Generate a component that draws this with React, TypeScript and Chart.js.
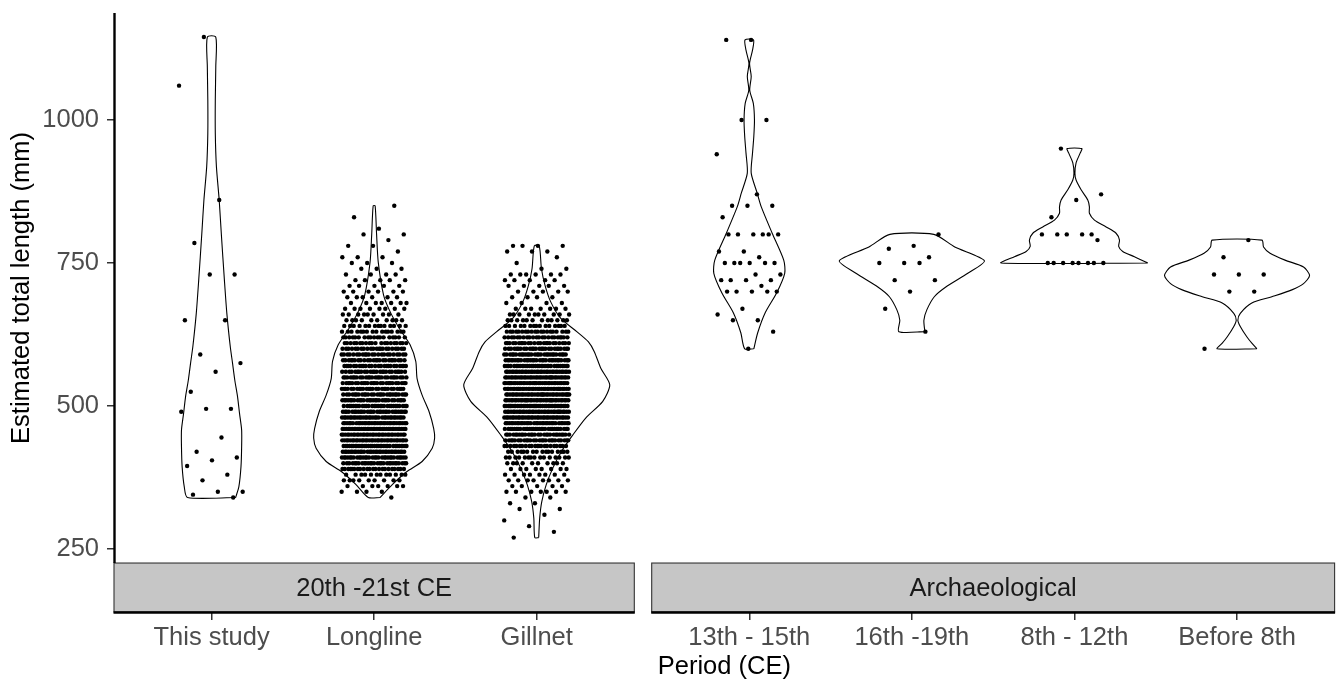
import React, { useEffect, useRef } from "react";
import { Chart, registerables } from "chart.js";

Chart.register(...registerables);

// ---------------- data ----------------
const categories = ["This study", "Longline", "Gillnet", "13th - 15th", "16th -19th", "8th - 12th", "Before 8th"];
const facetLabels = ["20th -21st CE", "Archaeological"];
const facetSizes = [3, 4];
const yTicks = [250, 500, 750, 1000];
const xTitle = "Period (CE)";
const yTitle = "Estimated total length (mm)";

// individual lengths (mm)
const thisStudyLengths = [1145, 1060, 860, 785, 730, 730, 650, 650, 590, 575, 560, 525, 495, 495, 490, 445, 420, 410, 405, 395, 380, 370, 350, 350, 345, 340];
const thirteenthLengths = [1140, 1140, 1000, 1000, 940, 870, 850, 850, 850, 830, 800, 800, 800, 800, 800, 800, 770, 770, 760, 750, 750, 750, 750, 750, 750, 730, 730, 720, 720, 720, 720, 710, 700, 700, 700, 700, 700, 670, 660, 650, 650, 630, 600];
const sixteenthLengths = [800, 780, 775, 760, 750, 750, 750, 720, 720, 700, 670, 630];
const eighthLengths = [950, 870, 860, 830, 800, 800, 800, 800, 800, 790, 750, 750, 750, 750, 750, 750, 750, 750];
const before8Lengths = [790, 760, 730, 730, 730, 700, 700, 600];

// dense groups: number of fish at each recorded length (mm)
const longlineLevels = [340, 350, 360, 370, 380, 390, 400, 410, 420, 430, 440, 450, 460, 470, 480, 490, 500, 510, 520, 530, 540, 550, 560, 570, 580, 590, 600, 610, 620, 630, 640, 650, 660, 670, 680, 690, 700, 710, 720, 730, 740, 750, 760, 770, 780, 790, 800, 810, 830, 850];
const longlineCounts = [1, 4, 7, 9, 12, 22, 28, 30, 32, 33, 34, 34, 34, 33, 32, 30, 29, 28, 27, 26, 26, 26, 25, 25, 24, 23, 22, 20, 18, 16, 14, 10, 9, 8, 7, 6, 6, 5, 5, 4, 3, 3, 3, 1, 2, 1, 2, 1, 1, 1];
const gillnetLevels = [270, 280, 290, 300, 310, 320, 330, 340, 350, 360, 370, 380, 390, 400, 410, 420, 430, 440, 450, 460, 470, 480, 490, 500, 510, 520, 530, 540, 550, 560, 570, 580, 590, 600, 610, 620, 630, 640, 650, 660, 670, 680, 690, 700, 710, 720, 730, 740, 750, 760, 770, 780];
const gillnetCounts = [1, 1, 1, 1, 1, 2, 2, 2, 7, 5, 8, 8, 8, 10, 15, 16, 22, 26, 28, 30, 32, 34, 35, 36, 36, 36, 36, 36, 35, 34, 32, 30, 28, 26, 24, 22, 20, 15, 12, 10, 7, 4, 4, 5, 5, 5, 6, 2, 1, 1, 3, 4];

// violin outlines: length (mm) and half-width (in category units)
const thisStudyViolinY = [340, 359, 394, 429, 458, 487, 516, 545, 575, 604, 662, 720, 801, 860, 918, 977, 1035, 1093, 1145];
const thisStudyViolinW = [0.148, 0.168, 0.181, 0.185, 0.185, 0.172, 0.16, 0.143, 0.129, 0.115, 0.094, 0.079, 0.06, 0.047, 0.03, 0.023, 0.023, 0.026, 0.026];
const longlineViolinY = [340, 363, 385, 403, 426, 444, 461, 490, 519, 548, 578, 607, 636, 665, 694, 752, 800, 850];
const longlineViolinW = [0.036, 0.113, 0.2, 0.295, 0.357, 0.372, 0.366, 0.338, 0.295, 0.264, 0.256, 0.221, 0.154, 0.098, 0.058, 0.025, 0.015, 0.006];
const gillnetViolinY = [270, 304, 333, 362, 391, 420, 449, 479, 508, 537, 566, 595, 612, 630, 653, 682, 711, 740, 780];
const gillnetViolinW = [0.012, 0.018, 0.031, 0.058, 0.098, 0.151, 0.221, 0.301, 0.406, 0.449, 0.394, 0.354, 0.318, 0.246, 0.148, 0.086, 0.051, 0.029, 0.015];
const thirteenthViolinY = [600, 628, 663, 698, 732, 755, 802, 848, 872, 907, 942, 971, 1000, 1029, 1052, 1076, 1099, 1122, 1140];
const thirteenthViolinW = [0.028, 0.052, 0.098, 0.169, 0.218, 0.212, 0.141, 0.074, 0.049, 0.012, 0.02, 0.028, 0.032, 0.025, 0.003, 0.012, 0.002, 0.02, 0.026];
const sixteenthViolinY = [630, 650, 668, 691, 708, 732, 754, 778, 800];
const sixteenthViolinW = [0.08, 0.074, 0.092, 0.138, 0.209, 0.344, 0.446, 0.264, 0.135];
const eighthViolinY = [750, 761, 770, 779, 790, 802, 813, 825, 837, 848, 860, 878, 895, 907, 925, 942, 950];
const eighthViolinW = [0.451, 0.369, 0.297, 0.272, 0.277, 0.256, 0.195, 0.123, 0.092, 0.092, 0.082, 0.041, 0.01, 0.003, 0.01, 0.035, 0.045];
const before8ViolinY = [600, 610, 621, 639, 650, 662, 680, 691, 703, 714, 728, 743, 755, 767, 778, 790];
const before8ViolinW = [0.122, 0.091, 0.06, 0.02, 0.005, 0.02, 0.091, 0.214, 0.337, 0.409, 0.446, 0.409, 0.295, 0.203, 0.163, 0.153];

// ---------------- layout constants ----------------
const FONT = "'Liberation Sans', Arial, Helvetica, sans-serif";
const FONT_SIZE = 25.5;
const EXPAND = 0.6; // discrete scale expansion each side
const GAP = 0.107; // panel spacing in category units
const JITTER = 0.2;
const Y_PANEL_MIN = 225.5;
const Y_PANEL_MAX = 1187;
const Y_CHART_MIN = 139.9; // includes strip band below panels

function expandCounts(levels: number[], counts: number[]): number[] {
  const out: number[] = [];
  levels.forEach((v, i) => {
    for (let k = 0; k < counts[i]; k++) out.push(v);
  });
  return out;
}

const groupLengths: number[][] = [
  thisStudyLengths,
  expandCounts(longlineLevels, longlineCounts),
  expandCounts(gillnetLevels, gillnetCounts),
  thirteenthLengths,
  sixteenthLengths,
  eighthLengths,
  before8Lengths,
];
const violinY = [thisStudyViolinY, longlineViolinY, gillnetViolinY, thirteenthViolinY, sixteenthViolinY, eighthViolinY, before8ViolinY];
const violinW = [thisStudyViolinW, longlineViolinW, gillnetViolinW, thirteenthViolinW, sixteenthViolinW, eighthViolinW, before8ViolinW];

// facet geometry in x units
const facetStart: number[] = [];
const facetEnd: number[] = [];
const catPos: number[] = [];
{
  let start = 0;
  facetSizes.forEach((n) => {
    facetStart.push(start);
    for (let i = 0; i < n; i++) catPos.push(start + EXPAND + i);
    const end = start + (n - 1) + 2 * EXPAND;
    facetEnd.push(end);
    start = end + GAP;
  });
}
const X_MAX = facetEnd[facetEnd.length - 1];

function jitterOffset(i: number, seed: number): number {
  const t = (i * 0.6180339887 + seed * 0.3819660113) % 1;
  return (t - 0.5) * 2 * JITTER;
}

const facetPlugin = {
  id: "facetStrips",
  afterDraw(chart: any) {
    const { ctx, scales, chartArea } = chart;
    const x = scales.x;
    const y = scales.y;
    const stripTop = y.getPixelForValue(Y_PANEL_MIN);
    const stripBottom = chartArea.bottom;
    ctx.save();
    facetLabels.forEach((label, f) => {
      const l = x.getPixelForValue(facetStart[f]);
      const r = x.getPixelForValue(facetEnd[f]);
      ctx.fillStyle = "#c6c6c6";
      ctx.fillRect(l, stripTop, r - l, stripBottom - stripTop);
      ctx.strokeStyle = "#333333";
      ctx.lineWidth = 1.1;
      ctx.strokeRect(l, stripTop, r - l, stripBottom - stripTop);
      ctx.fillStyle = "#1a1a1a";
      ctx.font = `${FONT_SIZE}px ${FONT}`;
      ctx.textAlign = "center";
      ctx.textBaseline = "middle";
      ctx.fillText(label, (l + r) / 2, (stripTop + stripBottom) / 2 + 1);
      // x axis line of this panel
      ctx.strokeStyle = "#000";
      ctx.lineWidth = 2.4;
      ctx.beginPath();
      ctx.moveTo(l - 0.5, stripBottom + 0.5);
      ctx.lineTo(r + 0.5, stripBottom + 0.5);
      ctx.stroke();
    });
    // y axis line (left panel only)
    ctx.strokeStyle = "#000";
    ctx.lineWidth = 2.4;
    ctx.beginPath();
    ctx.moveTo(chartArea.left + 0.5, chartArea.top);
    ctx.lineTo(chartArea.left + 0.5, stripTop);
    ctx.stroke();
    // y title
    const yMid = (chartArea.top + stripTop) / 2;
    ctx.translate(21.5, yMid);
    ctx.rotate(-Math.PI / 2);
    ctx.fillStyle = "#000";
    ctx.font = `${FONT_SIZE}px ${FONT}`;
    ctx.textAlign = "center";
    ctx.textBaseline = "middle";
    ctx.fillText(yTitle, 0, 0);
    ctx.restore();
  },
};

export default function App() {
  const ref = useRef<HTMLCanvasElement | null>(null);

  useEffect(() => {
    if (!ref.current) return;
    Chart.defaults.font.family = FONT;

    const points: { x: number; y: number }[] = [];
    groupLengths.forEach((vals, g) => {
      vals.forEach((v, i) => {
        points.push({ x: catPos[g] + jitterOffset(i, g + 1), y: v });
      });
    });

    const violinSets = violinY.map((ys, g) => {
      const ws = violinW[g];
      const c = catPos[g];
      const data: { x: number; y: number }[] = [];
      for (let i = 0; i < ys.length; i++) data.push({ x: c + ws[i], y: ys[i] });
      for (let i = ys.length - 1; i >= 0; i--) data.push({ x: c - ws[i], y: ys[i] });
      data.push({ x: c + ws[0], y: ys[0] });
      return {
        label: categories[g] + " violin",
        data,
        showLine: true,
        borderColor: "#000",
        borderWidth: 1.1,
        backgroundColor: "rgba(0,0,0,0)",
        fill: false,
        pointRadius: 0,
        pointHoverRadius: 0,
        tension: 0.25,
        order: 1,
      };
    });

    const chart = new Chart(ref.current, {
      type: "scatter",
      data: {
        datasets: [
          {
            label: "points",
            data: points,
            pointRadius: 2.2,
            pointHoverRadius: 2.2,
            pointBorderWidth: 0,
            backgroundColor: "#000",
            borderColor: "#000",
            order: 0,
          } as any,
          ...(violinSets as any[]),
        ],
      },
      options: {
        animation: false,
        responsive: false,
        devicePixelRatio: 1,
        layout: { padding: { top: 13, right: 3.4, left: 0, bottom: 0 } },
        plugins: { legend: { display: false }, tooltip: { enabled: false } },
        events: [],
        scales: {
          x: {
            type: "linear",
            min: 0,
            max: X_MAX,
            afterFit: (s: any) => {
              s.height = 68;
              s.paddingLeft = 0;
              s.paddingRight = 0;
            },
            afterBuildTicks: (s: any) => {
              s.ticks = catPos.map((v) => ({ value: v }));
            },
            ticks: {
              autoSkip: false,
              maxRotation: 0,
              minRotation: 0,
              padding: 3,
              color: "#4d4d4d",
              font: { size: FONT_SIZE, family: FONT },
              callback: (_v: any, i: number) => categories[i],
            },
            grid: { display: true, drawOnChartArea: false, drawTicks: true, tickLength: 8, color: "#333", lineWidth: 1.5 },
            border: { display: false },
            title: {
              display: true,
              text: xTitle,
              color: "#000",
              font: { size: FONT_SIZE, family: FONT, lineHeight: 1 },
              padding: { top: 0, bottom: 0 },
            },
          },
          y: {
            type: "linear",
            min: Y_CHART_MIN,
            max: Y_PANEL_MAX,
            afterFit: (s: any) => {
              s.width = 114;
              s.paddingTop = 0;
              s.paddingBottom = 0;
            },
            afterBuildTicks: (s: any) => {
              s.ticks = yTicks.map((v) => ({ value: v }));
            },
            ticks: {
              padding: 8,
              color: "#4d4d4d",
              font: { size: FONT_SIZE, family: FONT },
              callback: (v: any) => String(v),
            },
            grid: { display: true, drawOnChartArea: false, drawTicks: true, tickLength: 7, color: "#333", lineWidth: 1.5 },
            border: { display: false },
          },
        },
      },
      plugins: [facetPlugin],
    } as any);

    return () => chart.destroy();
  }, []);

  return (
    <div style={{ position: "fixed", left: 0, top: 0, width: 1338, height: 680, background: "#fff" }}>
      <canvas ref={ref} width={1338} height={680} style={{ display: "block", width: 1338, height: 680 }} />
    </div>
  );
}
